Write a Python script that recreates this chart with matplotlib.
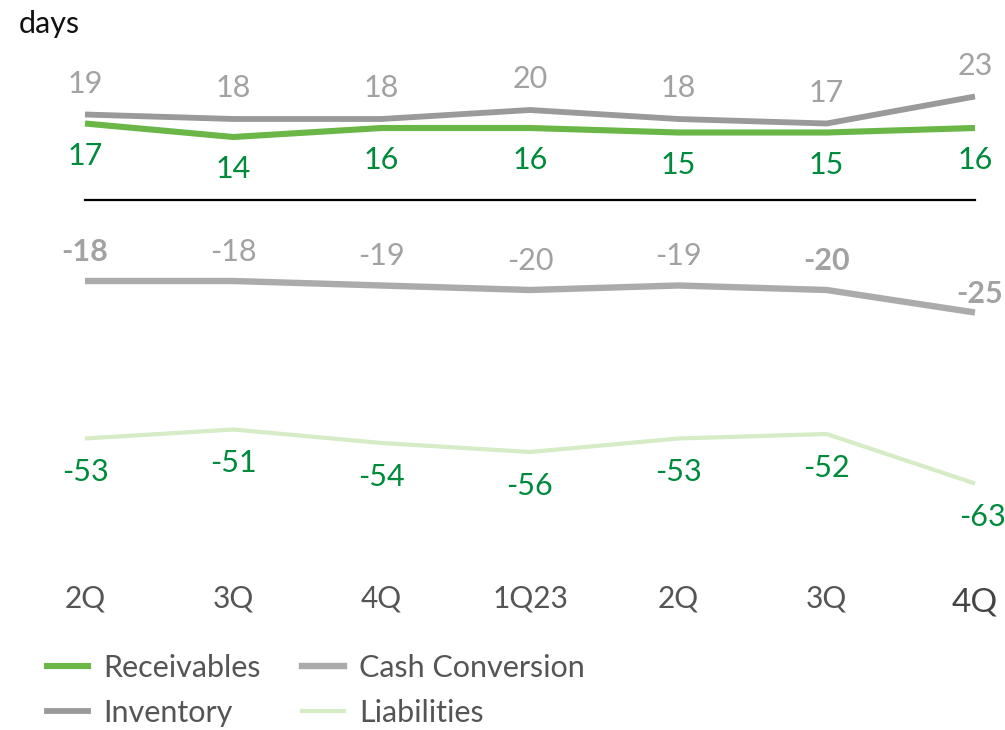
import matplotlib
matplotlib.use("Agg")
import matplotlib.pyplot as plt
from matplotlib.lines import Line2D

# quarterly working-capital days
quarters = ["2Q", "3Q", "4Q", "1Q23", "2Q", "3Q", "4Q"]
inventory = [19, 18, 18, 20, 18, 17, 23]
receivables = [17, 14, 16, 16, 15, 15, 16]
cash_conversion = [-18, -18, -19, -20, -19, -20, -25]
liabilities = [-53, -51, -54, -56, -53, -52, -63]
cash_bold = [True, False, False, False, False, True, True]

c_recv = "#6ab646"
c_inv = "#9a9a9a"
c_ccc = "#ababab"
c_liab = "#d5ecc6"
c_green_lbl = "#008a3c"
c_gray_lbl = "#a2a2a2"

plt.rcParams["font.family"] = ["Lato", "DejaVu Sans"]

fig = plt.figure(figsize=(10.05, 7.3), dpi=100)
ax = fig.add_axes([0, 0, 1, 1])
ax.set_xlim(-85 / 148.33, (1005 - 85) / 148.33)
ax.set_ylim(-530 / 4.5, 200 / 4.5)
ax.axis("off")

x = list(range(len(quarters)))

ax.plot([0, 6], [0, 0], color="black", lw=1.6)
ax.plot(x, inventory, color=c_inv, lw=4.2, solid_capstyle="butt")
ax.plot(x, receivables, color=c_recv, lw=4.4, solid_capstyle="butt")
ax.plot(x, cash_conversion, color=c_ccc, lw=4.6, solid_capstyle="butt")
ax.plot(x, liabilities, color=c_liab, lw=3.0, solid_capstyle="butt")

fs = 22
for i in x:
    ax.text(i, inventory[i] + 6.8, f"{inventory[i]}", ha="center", va="center",
            color=c_gray_lbl, fontsize=fs)
    ax.text(i, receivables[i] - 7.2, f"{receivables[i]}", ha="center", va="center",
            color=c_green_lbl, fontsize=fs)
    dx, dy = (0, 6.5) if i < 6 else (0.03, 4.2)
    ax.text(i + dx, cash_conversion[i] + dy, f"{cash_conversion[i]}", ha="center",
            va="center", color=c_gray_lbl, fontsize=fs,
            fontweight="bold" if cash_bold[i] else "normal")
    dx = 0 if i < 6 else 0.05
    ax.text(i + dx, liabilities[i] - 7.5, f"{liabilities[i]}", ha="center", va="center",
            color=c_green_lbl, fontsize=fs)

# category labels below the plot
for i, q in enumerate(quarters):
    last = i == len(quarters) - 1
    ax.text(i, -88.5 if not last else -89.5, q, ha="center", va="center",
            color="#444444" if last else "#555555", fontsize=24 if last else 21.5)

fig.text(19 / 1005, 1 - 24 / 730, "days", ha="left", va="center",
         fontsize=22, color="#111111")

handles = [
    Line2D([], [], color=c_recv, lw=4.4),
    Line2D([], [], color=c_inv, lw=4.2),
    Line2D([], [], color=c_ccc, lw=4.6),
    Line2D([], [], color=c_liab, lw=3.0),
]
labels = ["Receivables", "Inventory", "Cash Conversion", "Liabilities"]
fig.legend(handles, labels, loc="upper left", bbox_to_anchor=(47 / 1005, 1 - 654 / 730),
           ncol=2, frameon=False, fontsize=22, labelcolor="#555555",
           handlelength=1.35, handletextpad=0.5, columnspacing=1.35, labelspacing=0.55,
           borderaxespad=0, borderpad=0)

fig.savefig("out.png", dpi=100)
